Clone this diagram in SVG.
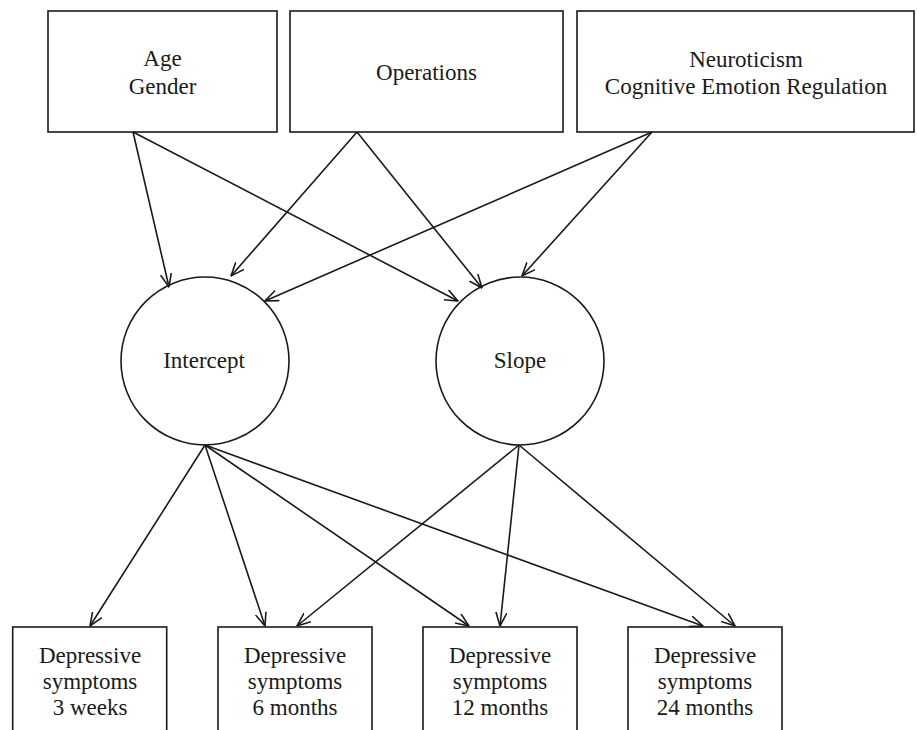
<svg xmlns="http://www.w3.org/2000/svg" width="917" height="730" viewBox="0 0 917 730">
<style>
.box{fill:#fff;stroke:#1a1a1a;stroke-width:1.6}
.t{font-family:"Liberation Serif","Times New Roman",serif;font-size:23px;fill:#1a1a1a;text-anchor:middle}
.c{fill:none;stroke:#1a1a1a;stroke-width:1.6;marker-end:url(#ah)}
</style>
<defs>
<marker id="ah" viewBox="0 0 14 12" refX="13.5" refY="6" markerWidth="14" markerHeight="12" markerUnits="userSpaceOnUse" orient="auto">
<path d="M0,0.5 L13.5,6 L0,11.5" fill="none" stroke="#1a1a1a" stroke-width="1.6"/>
</marker>
</defs>
<rect width="917" height="730" fill="#fff"/>
<g id="age-gender">
<rect class="box" x="48" y="11" width="229" height="121"/>
<text class="t" x="162.5" y="66">Age</text>
<text class="t" x="162.5" y="94">Gender</text>
</g>
<g id="operations">
<rect class="box" x="290" y="11" width="273" height="121"/>
<text class="t" x="426.5" y="80">Operations</text>
</g>
<g id="neuroticism">
<rect class="box" x="577" y="11" width="337" height="121"/>
<text class="t" x="746" y="67">Neuroticism</text>
<text class="t" x="746" y="94">Cognitive Emotion Regulation</text>
</g>
<g id="intercept">
<circle class="box" cx="205" cy="361" r="84"/>
<text class="t" x="204" y="368">Intercept</text>
</g>
<g id="slope">
<circle class="box" cx="520" cy="361" r="84"/>
<text class="t" x="520" y="368">Slope</text>
</g>
<g id="ds-3w">
<rect class="box" x="12.7" y="627" width="154" height="120"/>
<text class="t" x="90" y="663">Depressive</text>
<text class="t" x="90" y="689">symptoms</text>
<text class="t" x="90" y="715">3 weeks</text>
</g>
<g id="ds-6m">
<rect class="box" x="218" y="627" width="154" height="120"/>
<text class="t" x="295" y="663">Depressive</text>
<text class="t" x="295" y="689">symptoms</text>
<text class="t" x="295" y="715">6 months</text>
</g>
<g id="ds-12m">
<rect class="box" x="423" y="627" width="154" height="120"/>
<text class="t" x="500" y="663">Depressive</text>
<text class="t" x="500" y="689">symptoms</text>
<text class="t" x="500" y="715">12 months</text>
</g>
<g id="ds-24m">
<rect class="box" x="628" y="627" width="154" height="120"/>
<text class="t" x="705" y="663">Depressive</text>
<text class="t" x="705" y="689">symptoms</text>
<text class="t" x="705" y="715">24 months</text>
</g>
<g id="connectors">
<line class="c" x1="133" y1="132" x2="169" y2="287"/>
<line class="c" x1="133" y1="132" x2="458" y2="301"/>
<line class="c" x1="357" y1="132" x2="231" y2="276"/>
<line class="c" x1="357" y1="132" x2="482" y2="288"/>
<line class="c" x1="652" y1="132" x2="265" y2="301"/>
<line class="c" x1="652" y1="132" x2="522" y2="276"/>
<line class="c" x1="205" y1="445" x2="90" y2="626"/>
<line class="c" x1="205" y1="445" x2="265" y2="626"/>
<line class="c" x1="205" y1="445" x2="469" y2="626"/>
<line class="c" x1="205" y1="445" x2="703" y2="626"/>
<line class="c" x1="519" y1="445" x2="297" y2="626"/>
<line class="c" x1="519" y1="445" x2="500" y2="626"/>
<line class="c" x1="519" y1="445" x2="735" y2="626"/>
</g>
</svg>
